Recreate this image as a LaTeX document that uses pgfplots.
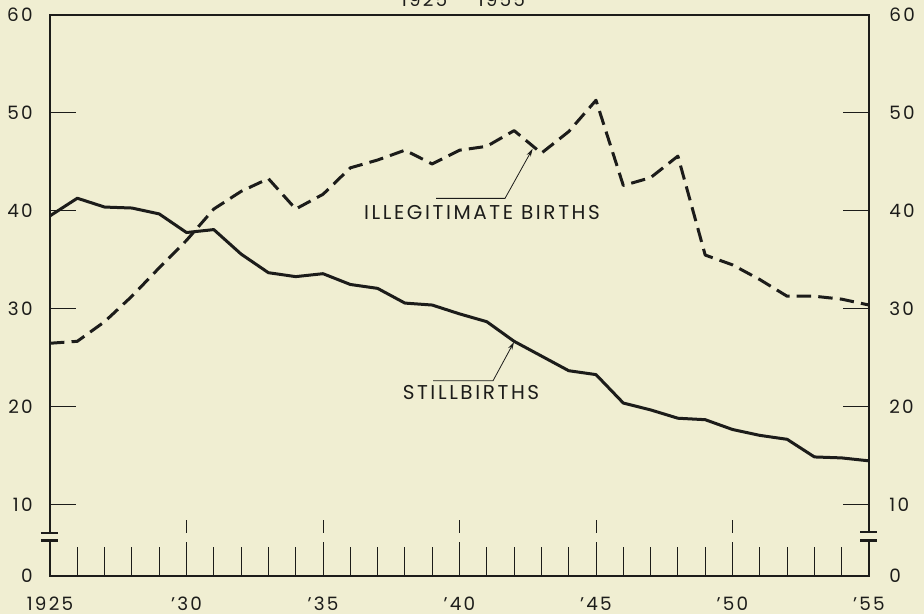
\documentclass[border=0pt]{standalone}
\usepackage{fontspec}
\setmainfont[LetterSpace=12]{Poppins}
\newfontfamily\labfont[LetterSpace=13]{Poppins}
\usepackage{pgfplots}
\pgfplotsset{compat=1.18}
\usetikzlibrary{arrows.meta}

\definecolor{paper}{HTML}{F0EED2}
\definecolor{ink}{HTML}{1C1C1A}

% stillbirths and illegitimate births, 1925-1955
\pgfplotstableread{
year still illeg
1925 39.5 26.5
1926 41.3 26.7
1927 40.4 28.7
1928 40.3 31.3
1929 39.7 34.2
1930 37.8 37.0
1931 38.1 40.2
1932 35.6 42.0
1933 33.7 43.3
1934 33.3 40.2
1935 33.6 41.7
1936 32.5 44.4
1937 32.1 45.2
1938 30.6 46.2
1939 30.4 44.8
1940 29.5 46.2
1941 28.7 46.6
1942 26.7 48.2
1943 25.2 45.9
1944 23.7 48.1
1945 23.3 51.3
1946 20.4 42.6
1947 19.7 43.4
1948 18.85 45.6
1949 18.7 35.5
1950 17.7 34.5
1951 17.1 33.0
1952 16.7 31.3
1953 14.9 31.3
1954 14.8 31.0
1955 14.5 30.4
}\datatable

\begin{document}
\begin{tikzpicture}[x=1pt,y=1pt,font=\fontsize{9.2}{11}\selectfont,
  break bar/.style={ink,line width=1.1pt},
  curve label/.style={ink,font=\labfont\fontsize{10}{12}\selectfont}]
\fill[paper] (-25,-19) rectangle (437,288);

\begin{axis}[at={(0,0)}, anchor=south west, scale only axis,
  width=409.5pt, height=280.5pt,
  xmin=1925, xmax=1955, ymin=2.75, ymax=60,
  axis line style={ink, line width=0.9pt},
  tick align=inside, major tick length=13pt,
  tick style={ink, line width=0.5pt},
  xtick={1925,1930,...,1955},
  xticklabels={1925,'30,'35,'40,'45,'50,'55},
  xtick style={draw=none},
  xticklabel style={anchor=north, inner ysep=0pt, yshift=-10.3pt, text=ink},
  ytick={2.75,10,20,30,40,50,60},
  yticklabels={0,10,20,30,40,50,60},
  ytick pos=both, yticklabel pos=left,
  yticklabel style={anchor=east, inner xsep=0pt, xshift=-8.5pt, text=ink},
  /pgf/number format/assume math mode=true,
  clip=false]
\addplot[ink, line width=1.5pt, line join=round] table[x=year, y=still] {\datatable};
\addplot[ink, line width=1.5pt, line join=round, dash pattern=on 7.2pt off 3.6pt] table[x=year, y=illeg] {\datatable};
\end{axis}

% right-hand labels
\begin{axis}[at={(0,0)}, anchor=south west, scale only axis,
  width=409.5pt, height=280.5pt,
  xmin=1925, xmax=1955, ymin=2.75, ymax=60,
  axis x line=none, axis y line*=right,
  y axis line style={draw=none}, ytick style={draw=none}, xtick=\empty,
  ytick={2.75,10,20,30,40,50,60},
  yticklabels={0,10,20,30,40,50,60},
  yticklabel style={anchor=west, inner xsep=0pt, xshift=10pt, text=ink}]
\end{axis}

% heavier base line
\draw[ink, line width=1.4pt] (0,0) -- (409.5,0);

% year ticks on the base
\foreach \k in {1,...,29}{
  \pgfmathtruncatemacro{\m}{mod(\k,5)}
  \ifnum\m=0
    \draw[ink, line width=0.5pt] (\k*13.65,0) -- (\k*13.65,17);
    \draw[ink, line width=0.5pt] (\k*13.65,21.5) -- (\k*13.65,28);
  \else
    \draw[ink, line width=0.5pt] (\k*13.65,0) -- (\k*13.65,14.5);
  \fi
}

% broken scale between 0 and 10
\fill[paper] (-1.2,17.9) rectangle (1.2,21.4);
\fill[paper] (408.3,17.9) rectangle (410.7,21.4);
\draw[break bar] (-4.6,21.6) -- (4.2,21.6);
\draw[break bar] (-4.6,17.7) -- (4.2,17.7);
\draw[break bar] (405,21.8) -- (413.5,21.8);
\draw[break bar] (405,17.7) -- (413.5,17.7);

% labels with leaders
\node[curve label] at (210.5,91.5) {STILLBIRTHS};
\draw[ink, line width=0.4pt, -{Stealth[length=4pt,width=2.2pt]}] (191.5,97.6) -- (221.5,97.6) -- (232,117);
\node[curve label] at (216,181.5) {ILLEGITIMATE BIRTHS};
\draw[ink, line width=0.4pt, -{Stealth[length=4pt,width=2.2pt]}] (193,188.8) -- (227.5,188.8) -- (241.3,213.6);

% title, cut by the top edge as in the original
\node[ink, anchor=base] at (206.5,284.5) {1925 — 1955};

\pgfresetboundingbox
\path[use as bounding box] (-25,-19) rectangle (437,288);
\end{tikzpicture}
\end{document}
